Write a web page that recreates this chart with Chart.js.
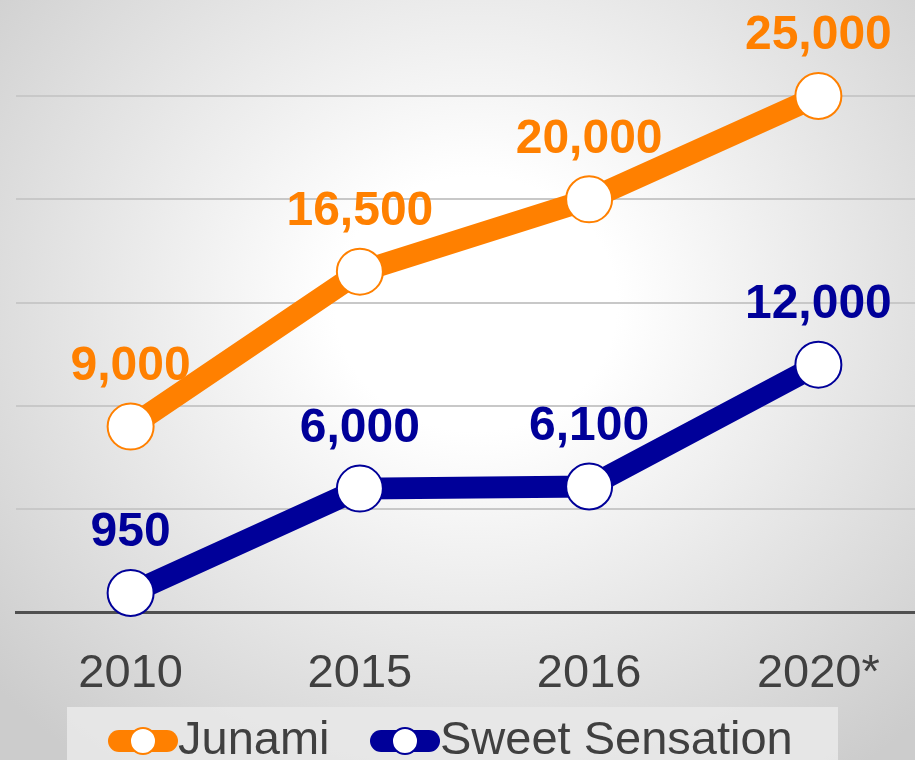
<!DOCTYPE html>
<html>
<head>
<meta charset="utf-8">
<script src="https://cdn.jsdelivr.net/npm/chart.js@4.4.0/dist/chart.umd.min.js"></script>
<style>
html, body { margin: 0; padding: 0; overflow: hidden; }
body {
  width: 915px; height: 760px;
  background: radial-gradient(ellipse 70% 76% at 52% 40%, #ffffff 22%, #cccccc 100%);
}
#chart-growth { display: block; }
</style>
</head>
<body>
<canvas id="chart-growth" width="935" height="760"></canvas>
<script>
// Data
var years = ["2010", "2015", "2016", "2020*"];
var junami = [9000, 16500, 20000, 25000];
var sweetSensation = [950, 6000, 6100, 12000];
var seriesNames = ["Junami", "Sweet Sensation"];
var seriesColors = ["#ff8000", "#000099"];

var fontFamily = '"Liberation Sans", Arial, sans-serif';

// value labels above each point
var valueLabels = {
  id: 'valueLabels',
  afterDatasetsDraw: function (chart) {
    var ctx = chart.ctx;
    ctx.save();
    ctx.font = 'bold 48px ' + fontFamily;
    ctx.textAlign = 'center';
    ctx.textBaseline = 'middle';
    chart.data.datasets.forEach(function (ds, i) {
      var meta = chart.getDatasetMeta(i);
      ctx.fillStyle = ds.borderColor;
      meta.data.forEach(function (pt, j) {
        ctx.fillText(ds.data[j].toLocaleString('en-US'), pt.x, pt.y - 60);
      });
    });
    ctx.restore();
  }
};

// legend box at the bottom, line + circle markers
var bottomLegend = {
  id: 'bottomLegend',
  afterDraw: function (chart) {
    var ctx = chart.ctx;
    ctx.save();
    ctx.fillStyle = 'rgba(232,232,232,0.9)';
    ctx.fillRect(67, 707, 771, 60);
    var starts = [108, 370];
    ctx.font = '47px ' + fontFamily;
    ctx.textBaseline = 'middle';
    chart.data.datasets.forEach(function (ds, i) {
      var x = starts[i], y = 741;
      ctx.strokeStyle = ds.borderColor;
      ctx.lineWidth = 22;
      ctx.lineCap = 'round';
      ctx.beginPath();
      ctx.moveTo(x + 11, y);
      ctx.lineTo(x + 59, y);
      ctx.stroke();
      ctx.beginPath();
      ctx.arc(x + 35, y, 13, 0, Math.PI * 2);
      ctx.fillStyle = '#ffffff';
      ctx.fill();
      ctx.lineWidth = 2;
      ctx.stroke();
      ctx.fillStyle = '#404040';
      ctx.textAlign = 'left';
      ctx.fillText(ds.label, x + 70, y);
    });
    ctx.restore();
  }
};

var ctx = document.getElementById("chart-growth").getContext('2d');
var myChart = new Chart(ctx, {
  type: 'line',
  data: {
    labels: years,
    datasets: [{
      label: seriesNames[0],
      data: junami,
      borderColor: seriesColors[0],
      backgroundColor: '#ffffff',
      borderWidth: 22,
      pointRadius: 23,
      pointBorderWidth: 2,
      pointBackgroundColor: '#ffffff',
      pointBorderColor: seriesColors[0],
      tension: 0,
      clip: false
    }, {
      label: seriesNames[1],
      data: sweetSensation,
      borderColor: seriesColors[1],
      backgroundColor: '#ffffff',
      borderWidth: 22,
      pointRadius: 23,
      pointBorderWidth: 2,
      pointBackgroundColor: '#ffffff',
      pointBorderColor: seriesColors[1],
      tension: 0,
      clip: false
    }]
  },
  options: {
    responsive: false,
    animation: false,
    events: [],
    layout: { autoPadding: false, padding: { top: 96, left: 16, right: 2, bottom: 25 } },
    plugins: {
      legend: { display: false },
      tooltip: { enabled: false }
    },
    scales: {
      x: {
        offset: true,
        grid: { display: false, drawTicks: false },
        border: { display: true, color: '#505050', width: 3 },
        ticks: {
          color: '#404040',
          padding: 33,
          font: { family: fontFamily, size: 47 }
        }
      },
      y: {
        min: 0,
        max: 25000,
        ticks: { display: false, stepSize: 5000 },
        border: { display: false },
        grid: {
          drawTicks: false,
          lineWidth: 2,
          color: function (c) { return c.tick && c.tick.value === 0 ? 'rgba(0,0,0,0)' : '#c8c8c8'; }
        }
      }
    }
  },
  plugins: [valueLabels, bottomLegend]
});
</script>
</body>
</html>
